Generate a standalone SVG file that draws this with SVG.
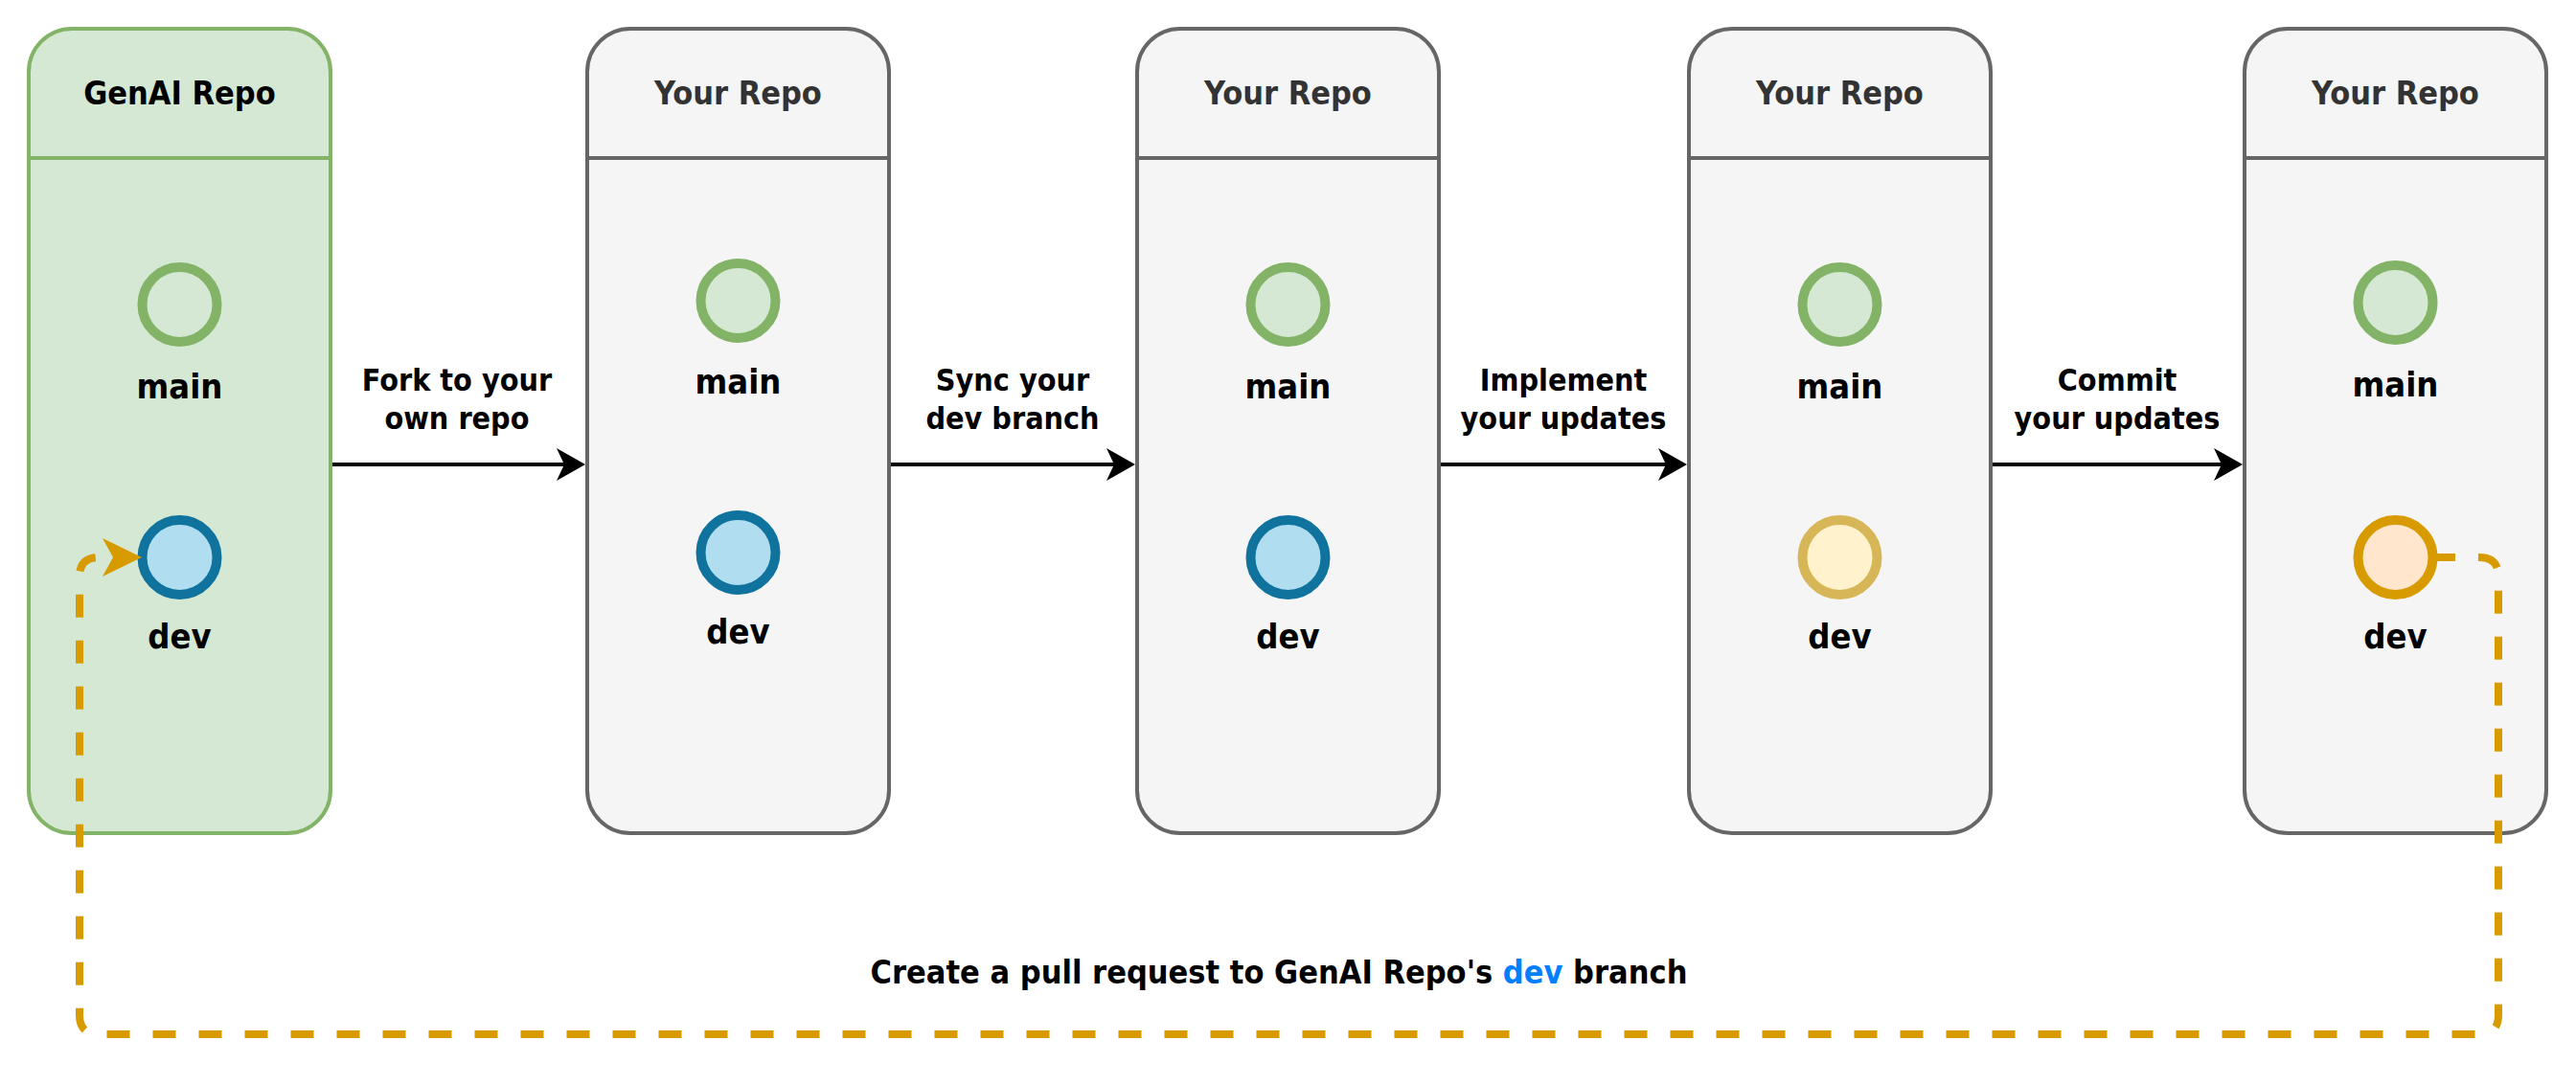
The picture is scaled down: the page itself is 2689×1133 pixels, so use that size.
<svg xmlns="http://www.w3.org/2000/svg" width="2689" height="1133" viewBox="0 0 2689 1133">
  <style>
    text { font-family: "DejaVu Sans Condensed", "DejaVu Sans", Verdana, sans-serif; font-weight: bold; font-stretch: condensed; text-anchor: middle; }
    .t { font-size: 34px; fill: #333333; }
    .tg { font-size: 34px; fill: #000000; }
    .lbl { font-size: 32px; fill: #000000; }
    .pr-lbl { font-size: 34px; fill: #000000; }
    .el { font-size: 36px; fill: #000000; }
    .boxg { fill: #d5e8d4; stroke: #82b366; stroke-width: 4; }
    .boxw { fill: #f5f5f5; stroke: #666666; stroke-width: 4; }
    .sepg { stroke: #82b366; stroke-width: 4; }
    .sepw { stroke: #666666; stroke-width: 4; }
    .cmain { fill: #d5e8d4; stroke: #82b366; stroke-width: 10; }
    .cdev { fill: #b1ddf0; stroke: #10739e; stroke-width: 10; }
    .cimpl { fill: #fff2cc; stroke: #d6b656; stroke-width: 10; }
    .ccommit { fill: #ffe6cc; stroke: #d79b00; stroke-width: 10; }
    .arrow { fill: none; stroke: #000000; stroke-width: 4; }
    .pr { fill: none; stroke: #d79b00; stroke-width: 8; stroke-dasharray: 24 24; }
  </style>
  <defs>
    <marker id="ah" markerUnits="userSpaceOnUse" viewBox="0 0 30 34" markerWidth="30" markerHeight="34" refX="8" refY="17" orient="auto" overflow="visible">
      <path d="M0,0 L30,17 L0,34 L8,17 Z" fill="#000000"/>
    </marker>
    <marker id="ahpr" markerUnits="userSpaceOnUse" viewBox="0 0 41 40" markerWidth="41" markerHeight="40" refX="11" refY="20" orient="auto" overflow="visible">
      <path d="M0,0 L41,20 L0,40 L11,20 Z" fill="#d79b00"/>
    </marker>
  </defs>

  <g id="genai-repo">
    <rect class="boxg" x="30" y="30" width="315" height="840" rx="45" ry="45"/>
    <line class="sepg" x1="30" y1="165" x2="345" y2="165"/>
    <text class="tg" x="187.5" y="109">GenAI Repo</text>
    <circle class="cmain" cx="187.5" cy="318" r="39"/>
    <text class="el" x="187.5" y="416">main</text>
    <circle class="cdev" cx="187.5" cy="582" r="39"/>
    <text class="el" x="187.5" y="677">dev</text>
  </g>

  <g id="your-repo-fork">
    <rect class="boxw" x="613" y="30" width="315" height="840" rx="45" ry="45"/>
    <line class="sepw" x1="613" y1="165" x2="928" y2="165"/>
    <text class="t" x="770.5" y="109">Your Repo</text>
    <circle class="cmain" cx="770.5" cy="314" r="39"/>
    <text class="el" x="770.5" y="411">main</text>
    <circle class="cdev" cx="770.5" cy="577" r="39"/>
    <text class="el" x="770.5" y="672">dev</text>
  </g>

  <g id="your-repo-sync">
    <rect class="boxw" x="1187" y="30" width="315" height="840" rx="45" ry="45"/>
    <line class="sepw" x1="1187" y1="165" x2="1502" y2="165"/>
    <text class="t" x="1344.5" y="109">Your Repo</text>
    <circle class="cmain" cx="1344.5" cy="318" r="39"/>
    <text class="el" x="1344.5" y="416">main</text>
    <circle class="cdev" cx="1344.5" cy="582" r="39"/>
    <text class="el" x="1344.5" y="677">dev</text>
  </g>

  <g id="your-repo-implement">
    <rect class="boxw" x="1763" y="30" width="315" height="840" rx="45" ry="45"/>
    <line class="sepw" x1="1763" y1="165" x2="2078" y2="165"/>
    <text class="t" x="1920.5" y="109">Your Repo</text>
    <circle class="cmain" cx="1920.5" cy="318" r="39"/>
    <text class="el" x="1920.5" y="416">main</text>
    <circle class="cimpl" cx="1920.5" cy="582" r="39"/>
    <text class="el" x="1920.5" y="677">dev</text>
  </g>

  <g id="your-repo-commit">
    <rect class="boxw" x="2343" y="30" width="315" height="840" rx="45" ry="45"/>
    <line class="sepw" x1="2343" y1="165" x2="2658" y2="165"/>
    <text class="t" x="2500.5" y="109">Your Repo</text>
    <circle class="cmain" cx="2500.5" cy="316" r="39"/>
    <text class="el" x="2500.5" y="414">main</text>
    <circle class="ccommit" cx="2500.5" cy="582" r="39"/>
    <text class="el" x="2500.5" y="677">dev</text>
  </g>

  <g id="connectors">
    <path class="arrow" d="M347,485 L589,485" marker-end="url(#ah)"/>
    <text class="lbl" x="477" y="408">Fork to your</text>
    <text class="lbl" x="477" y="448">own repo</text>

    <path class="arrow" d="M930,485 L1163,485" marker-end="url(#ah)"/>
    <text class="lbl" x="1057" y="408">Sync your</text>
    <text class="lbl" x="1057" y="448">dev branch</text>

    <path class="arrow" d="M1504,485 L1739,485" marker-end="url(#ah)"/>
    <text class="lbl" x="1632" y="408">Implement</text>
    <text class="lbl" x="1632" y="448">your updates</text>

    <path class="arrow" d="M2080,485 L2319,485" marker-end="url(#ah)"/>
    <text class="lbl" x="2210" y="408">Commit</text>
    <text class="lbl" x="2210" y="448">your updates</text>

    <path class="pr" d="M2539,582 L2588,582 Q2608,582 2608,602 L2608,1060 Q2608,1080 2588,1080 L103,1080 Q83,1080 83,1060 L83,602 Q83,582 103,582 L118,582" marker-end="url(#ahpr)"/>
    <text class="pr-lbl" x="1335" y="1027">Create a pull request to GenAI Repo's <tspan fill="#007fff">dev</tspan> branch</text>
  </g>
</svg>
